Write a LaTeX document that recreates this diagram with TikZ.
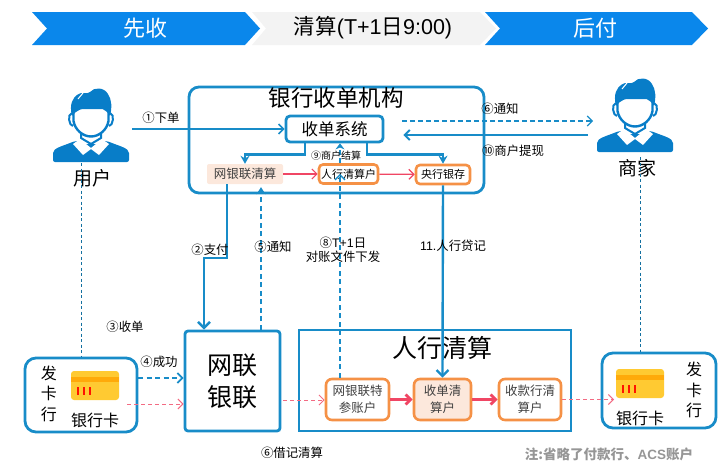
\documentclass[tikz,border=0pt]{standalone}
\usepackage{xcolor}
\usepackage{fontspec}
\usepackage{tikz}
\usetikzlibrary{arrows.meta,positioning}
\setmainfont{Noto Sans CJK SC}
\newfontfamily\latinfont{Liberation Sans}
\definecolor{headblue}{RGB}{10,135,235}
\definecolor{headgrey}{RGB}{243,243,243}
\definecolor{lineblue}{RGB}{24,140,200}
\definecolor{iconblue}{RGB}{8,125,200}
\definecolor{boxorange}{RGB}{245,145,70}
\definecolor{peach}{RGB}{252,232,220}
\definecolor{linered}{RGB}{240,70,100}
\definecolor{cardyellow}{RGB}{255,202,50}
\definecolor{cardband}{RGB}{255,170,10}
\definecolor{notegrey}{RGB}{150,150,150}
\tikzset{
  innerbox/.style={draw=boxorange, line width=2.6pt, rounded corners=4pt, inner sep=0pt, align=center},
  lbl/.style={font=\fontsize{12.4}{13.5}\selectfont, align=center, inner sep=0pt},
  bluesolid/.style={draw=lineblue, line width=2.4pt, -{Stealth[length=8pt,width=9pt]}},
  bluebarb/.style={draw=lineblue, line width=2.4pt, -{Straight Barb[length=6pt,width=12pt]}},
  bluedash/.style={draw=lineblue, line width=1.8pt, dash pattern=on 5pt off 3.5pt, -{Straight Barb[length=5pt,width=10pt]}},
  bluethin/.style={draw=lineblue!80!black, line width=.9pt, dash pattern=on 3pt off 2.5pt},
  redthin/.style={draw=linered, line width=1.2pt, -{Straight Barb[length=5pt,width=10pt]}},
  reddash/.style={draw=linered!80, line width=1pt, dash pattern=on 4pt off 3pt, -{Straight Barb[length=5pt,width=10pt]}},
  redthick/.style={draw=linered, line width=2.8pt, -{Straight Barb[length=5pt,width=10pt]}},
  person/.pic={
    % origin is the top of the hair
    \fill[iconblue, rounded corners=2pt] (-38,74) -- (-38,67) .. controls (-38,60) and (-28,58) .. (-16,53) -- (16,53) .. controls (28,58) and (38,60) .. (38,67) -- (38,74) -- cycle;
    \fill[white] (-11,45) rectangle (11,56);
    \draw[iconblue, line width=2pt] (-10,44) -- (-10,50) -- (0,56) -- (10,50) -- (10,44);
    \fill[white] (-18,56) -- (-11,51) -- (0,60) -- (11,51) -- (18,56) -- (8,67) -- (0,61) -- (-8,67) -- cycle;
    \draw[iconblue, line width=2pt] (-19,25) .. controls (-24,26) and (-22,38) .. (-18,38);
    \draw[iconblue, line width=2pt] (19,25) .. controls (24,26) and (22,38) .. (18,38);
    \filldraw[fill=white, draw=iconblue, line width=2.4pt] (-17.5,20) -- (-17.5,33) .. controls (-16,42) and (-8,48.5) .. (0,48.5) .. controls (8,48.5) and (16,42) .. (17.5,33) -- (17.5,20) -- cycle;
    \fill[iconblue] (-19,28) .. controls (-22,16) and (-18,10) .. (-14,7) .. controls (-10,3) and (-4,7) .. (-1,4) .. controls (3,-1) and (13,-1) .. (17,6) .. controls (21,12) and (21,20) .. (19,28) .. controls (15,21) and (8,18) .. (0,19) .. controls (-8,20) and (-15,22) .. (-19,28) -- cycle;
    \draw[white, line width=1pt] (-13,11) -- (-8,5);
  },
  bankcard/.pic={
    % origin is the top left corner of the card
    \fill[cardyellow, rounded corners=3pt] (0,0) rectangle (48,29);
    \fill[cardband] (0,6) rectangle (48,11);
    \foreach \barx in {7,13,19}
      \draw[red!85!orange, line width=1.6pt] (\barx,16) -- (\barx,24);
  }
}
\begin{document}
\begin{tikzpicture}[x=1pt, y=-1pt]
\useasboundingbox (0,0) rectangle (721,466);

% headers
\fill[headgrey] (252,12) -- (480,12) -- (496,28.5) -- (480,45) -- (252,45) -- (266,28.5) -- cycle;
\fill[headblue] (32,12) -- (245,12) -- (260,28.5) -- (245,45) -- (32,45) -- (47,28.5) -- cycle;
\fill[headblue] (485,12) -- (692,12) -- (708,28.5) -- (692,45) -- (485,45) -- (500,28.5) -- cycle;
\node[text=white, font=\fontsize{22}{22}\selectfont] (first) at (145,28) {先收};
\node[font=\fontsize{21.5}{21.5}\selectfont] (clear) at (373,28) {清算{\latinfont(T+1}日{\latinfont 9:00)}};
\node[text=white, font=\fontsize{22}{22}\selectfont] (later) at (595,28) {后付};

% people
\pic (usericon) at (91,88) {person};
\pic (shopicon) at (635,78) {person};
\node[font=\fontsize{19}{19}\selectfont, inner sep=0pt] (user) at (92,178) {用户};
\node[font=\fontsize{19}{19}\selectfont, inner sep=0pt] (shop) at (637,168) {商家};
\coordinate (userfoot) at (81.5,163);
\coordinate (shopfoot) at (640.7,157);

% bank
\draw[lineblue, line width=2.8pt, rounded corners=10pt] (189,87) rectangle (484,193);
\node[font=\fontsize{22.5}{22.5}\selectfont, inner sep=0pt] (banktitle) at (336,98) {银行收单机构};
\node[draw=lineblue, line width=2.8pt, rounded corners=4pt, minimum width=97pt, minimum height=26pt, inner sep=0pt, font=\fontsize{16.5}{16.5}\selectfont] (acquire) at (334.5,129) {收单系统};
\node[fill=peach, rounded corners=2pt, minimum width=76pt, minimum height=20pt, inner sep=0pt, text=black!75, font=\fontsize{12.5}{12.5}\selectfont] (netclear) at (245,174) {网银联清算};
\node[innerbox, minimum width=59pt, minimum height=19pt, font=\fontsize{11}{11}\selectfont] (pbcclear) at (348.5,174) {人行清算户};
\node[innerbox, minimum width=54pt, minimum height=19pt, font=\fontsize{11}{11}\selectfont] (pbcdeposit) at (443,174.5) {央行银存};

% union and clearing
\node[draw=lineblue, line width=2.8pt, rounded corners=3pt, minimum width=95pt, minimum height=100pt, inner sep=0pt, align=center, font=\fontsize{25}{32}\selectfont] (netunion) at (232.5,381) {网联\\银联};
\draw[lineblue, line width=2.6pt] (299,330) rectangle (571,431);
\node[font=\fontsize{25}{25}\selectfont, inner sep=0pt] (pbctitle) at (442,348) {人行清算};
\node[innerbox, rounded corners=6pt, minimum width=63pt, minimum height=41pt, font=\fontsize{12.5}{17}\selectfont, text=black!75] (netaccount) at (357.5,399.5) {网银联特\\参账户};
\node[innerbox, rounded corners=6pt, fill=peach, minimum width=57pt, minimum height=41pt, font=\fontsize{12.5}{17}\selectfont, text=black!75] (acqaccount) at (442.5,399.5) {收单清\\算户};
\node[innerbox, rounded corners=6pt, minimum width=62pt, minimum height=41pt, font=\fontsize{12.5}{17}\selectfont, text=black!75] (payaccount) at (530,399.5) {收款行清\\算户};

% issuers
\node[draw=lineblue, line width=2.8pt, rounded corners=11pt, minimum width=112pt, minimum height=74pt] (issuerl) at (81,395) {};
\node[draw=lineblue, line width=2.8pt, rounded corners=11pt, minimum width=114pt, minimum height=75pt] (issuerr) at (659,390.5) {};
\pic (cardl) at (71,371) {bankcard};
\pic (cardr) at (616,369) {bankcard};
\node[font=\fontsize{16}{20.5}\selectfont, align=center, inner sep=0pt] (issuerltext) at (49,393.5) {发\\卡\\行};
\node[font=\fontsize{16}{20.5}\selectfont, align=center, inner sep=0pt] (issuerrtext) at (694,390) {发\\卡\\行};
\node[font=\fontsize{16}{16}\selectfont, inner sep=0pt] (cardltext) at (95,420) {银行卡};
\node[font=\fontsize{16}{16}\selectfont, inner sep=0pt] (cardrtext) at (640,418) {银行卡};

% connectors
\coordinate (orderstart) at (132,129);
\coordinate (notifyend) at (593,121);
\coordinate (drawstart) at (588,135);
\coordinate (okstart) at (138,378);
\coordinate (debitstart) at (127,404);
\coordinate (unionout) at (283,400);
\coordinate (cardin) at (614,399.5);
\draw[draw=lineblue, line width=1.5pt, -{Straight Barb[length=5pt,width=10pt]}] (orderstart) -- (acquire.west |- orderstart);
\draw[bluesolid] ([xshift=-29.5pt]acquire.south) |- ++(-60,11) -- (netclear.north);
\draw[bluesolid] ([xshift=32.5pt]acquire.south) |- ++(76,11) -- (pbcdeposit.north);
\draw[bluedash, line width=1.4pt, -{Stealth[length=6pt,width=9pt]}] ([xshift=-8.5pt]pbcclear.north) -- ([xshift=-8.5pt]pbcclear.north |- acquire.south);
\draw[redthin] (netclear) -- (pbcclear);
\draw[redthin] (pbcclear) -- (pbcdeposit);
\draw[bluebarb] ([xshift=-18pt]netclear.south) |- ++(-23,74) -- ([xshift=-28.5pt]netunion.north);
\draw[bluedash, line width=2pt, -{Stealth[length=7pt,width=9pt]}, shorten >=3pt] ([xshift=28.5pt]netunion.north) -- ([xshift=28.5pt]netunion.north |- netclear.south);
\draw[bluedash, line width=1.4pt] ([xshift=-17.5pt]netaccount.north) -- ([xshift=-17.5pt,yshift=11pt]netaccount.north |- pbcclear.south);
\draw[bluebarb] (pbcdeposit.south) -- (acqaccount.north);
\draw[bluethin] (userfoot) -- (userfoot |- issuerl.north);
\draw[bluethin] (shopfoot) -- (shopfoot |- issuerr.north);
\draw[draw=lineblue, line width=1.1pt, dash pattern=on 5pt off 3pt, -{Straight Barb[length=5pt,width=10pt]}] ([xshift=18pt]acquire.east |- notifyend) -- (notifyend);
\draw[draw=lineblue, line width=2pt, -{Straight Barb[length=5pt,width=10pt]}] (drawstart) -- ([xshift=19pt]acquire.east |- drawstart);
\draw[bluedash] (okstart) -- (netunion.west |- okstart);
\draw[reddash] (debitstart) -- (netunion.west |- debitstart);
\draw[reddash] (unionout) -- (netaccount.west |- unionout);
\draw[redthick] (netaccount.east) -- (acqaccount.west);
\draw[redthick] (acqaccount.east) -- (payaccount.west);
\draw[reddash] (payaccount.east) -- (cardin);

% labels
\node[lbl] (l1) at (161,118) {①下单};
\node[lbl] (l2) at (210,250) {②支付};
\node[lbl] (l3) at (125,327) {③收单};
\node[lbl] (l4) at (159,362) {④成功};
\node[lbl] (l5) at (273,247) {⑤通知};
\node[lbl] (l6) at (500,109) {⑥通知};
\node[lbl] (l6b) at (292,453) {⑥借记清算};
\node[lbl] (l8) at (343,250) {⑧{\latinfont T+1}日\\对账文件下发};
\node[lbl, font=\fontsize{10}{10}\selectfont] (l9) at (336,156) {⑨商户结算};
\node[lbl] (l10) at (513,151) {⑩商户提现};
\node[lbl] (l11) at (453,246) {{\latinfont 11.}人行贷记};
\node[lbl, font=\fontsize{13.5}{14}\selectfont\bfseries, text=notegrey] (note) at (609,454) {注:省略了付款行、{\latinfont ACS}账户};
\end{tikzpicture}
\end{document}
